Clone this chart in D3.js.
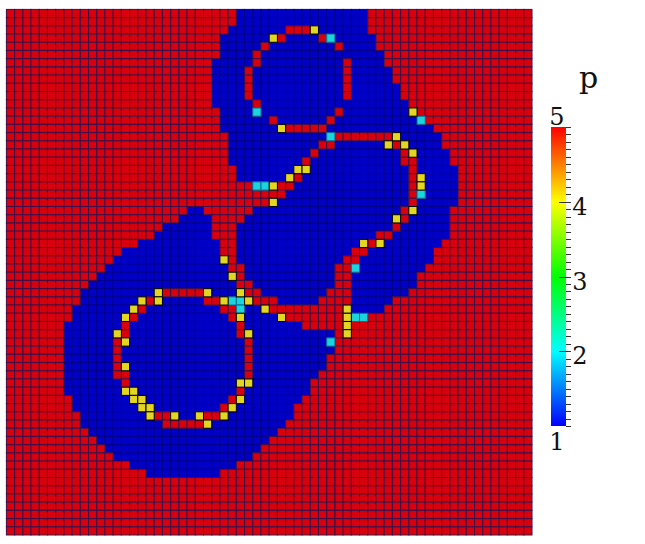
<!DOCTYPE html>
<html><head><meta charset="utf-8">
<script src="https://cdn.jsdelivr.net/npm/d3@7"></script>
<style>html,body{margin:0;padding:0;background:#fff}svg{display:block}</style>
</head><body><svg id="c" width="645" height="544"></svg>
<script>
const gridSize = 64;
// p = 1 runs per row, [start, endExclusive, ...]; everything else defaults to p = 5
const blueRuns = [
[28,44],[28,44],[27,44],[26,45],[26,45],[26,46],[25,46],[25,47],[25,47],[25,48],
[25,48],[25,49],[26,49],[26,50],[26,52],[27,53],[27,53],[27,54],[27,54],[28,55],
[28,55],[30,55],[34,55],[33,55],[22,24,30,54],[21,25,29,54],[19,25,28,54],[18,25,28,54],[16,26,28,53],[14,26,28,52],
[13,26,28,52],[12,27,29,51],[11,27,29,50],[10,28,30,50],[9,49],[9,47],[8,46],[8,44],[7,36],[7,40],
[7,39],[7,40],[7,39],[7,39],[7,38],[7,37],[7,37],[8,36],[8,35],[9,35],
[9,34],[10,33],[11,32],[12,31],[13,30],[15,28],[17,26],[],[],[],[],[],[],[]
];
// rings: [row, ...columns]
const redCells = [
[2,34,35,36],[3,33,38],[4,31,40],[5,30],[6,30,41],[7,29,41],[8,29,41],[9,29,41],[10,29,41],[11,30],
[12,40],[13,32,39],[14,34,35,36,37,38],[15,40,41,42,43,44,45,46],[16,38,39,47],[17,37,48],[18,36,48,49],[19,49],[20,35,49],[21,33,34,49],
[22,49],[23,49],[24,48],[25,48],[26,47],[27,45,46],[28,44],[29,42,43],[30,41,42],[31,40,41],
[32,40,41],[33,40,41],[34,19,20,21,22,23,29,30,39,40,41],[35,17,24,25,30,31,32,38,39,40,41],[36,16,26,27,32,33,34,35,36,37,38,39,40],[37,15,27,34,35,36,37,38,39,40],
[38,14,28],[39,14,28],[40,13,29],[41,13,29],[42,13,29],[43,13,29],[44,13,14,29],[45,14],[46,28],[47,27],[48,26],[49,18,19,24,25],[50,19,20,21,22,23]
];
const yellowCells = [
[2,37],[3,32],[12,49],[14,33],[15,47],[16,46,48],[17,49],[19,35,36],[20,34,50],[21,32,50],[23,32],[24,49],[25,47],[28,43,45],[30,26],[32,27],
[34,18,24,28],[35,16,18,26,29],[36,15,31,41],[37,14,28,33,41],[38,41],[39,13,29,41],[40,14],[43,14],[45,28,29],[46,14,15],[47,15,16,28],[48,16,17,27],[49,17,20,23,26],[50,24]
];
const cyanCells = [[3,39],[12,30],[13,50],[15,39],[21,30,31],[22,50],[31,42],[35,27,28],[36,28],[37,42,43],[40,39]];
const barTicks = [1,2,3,4,5];
const barTitle = "p";

// assemble the grid
const grid = d3.range(gridSize).map(() => new Array(gridSize).fill(5));
blueRuns.forEach((runs, r) => { for (let i = 0; i < runs.length; i += 2) for (let c = runs[i]; c < runs[i+1]; c++) grid[r][c] = 1; });
const put = (list, v) => list.forEach(([r, ...cols]) => cols.forEach(c => grid[r][c] = v));
put(redCells, 5); put(yellowCells, 4); put(cyanCells, 2);
const cells = grid.flatMap((row, r) => row.map((v, c) => ({r, c, v})));

const svg = d3.select("#c");
const defs = svg.append("defs");
defs.append("filter").attr("id","soft").attr("x",-0.01).attr("y",-0.01).attr("width",1.02).attr("height",1.02)
  .append("feGaussianBlur").attr("stdDeviation",0.45);
const x = d3.scaleLinear().domain([0, gridSize]).range([6.4, 532]);
const y = d3.scaleLinear().domain([0, gridSize]).range([9.4, 535]);
const cellFill = d3.scaleOrdinal().domain([1,2,4,5]).range(["#0000c6","#1cd4dc","#e2d620","#d80008"]);
const cellEdge = d3.scaleOrdinal().domain([1,2,4,5]).range(["#000088","#0c6c98","#000000","#3c1048"]);
const rank = {1:0, 5:1, 2:2, 4:3};

svg.append("g").attr("filter","url(#soft)").selectAll("rect")
  .data(cells.slice().sort((a,b) => rank[a.v]-rank[b.v]))
  .join("rect")
  .attr("x", d => x(d.c))
  .attr("y", d => y(d.r))
  .attr("width", d => x(d.c+1) - x(d.c))
  .attr("height", d => y(d.r+1) - y(d.r))
  .attr("fill", d => cellFill(d.v))
  .attr("stroke", d => cellEdge(d.v))
  .attr("stroke-width", 1);

// colour bar
const barY = d3.scaleLinear().domain([1,5]).range([426,127]);
const barColor = d3.scaleLinear().domain(barTicks).range(["#0000ff","#00ffff","#00ff00","#ffff00","#ff0000"]);
const grad = defs.append("linearGradient").attr("id","bar")
  .attr("x1",0).attr("y1",1).attr("x2",0).attr("y2",0);
barTicks.forEach(t => grad.append("stop").attr("offset",(t-1)/4).attr("stop-color",barColor(t)));
svg.append("rect").attr("x",551).attr("y",barY(5)).attr("width",15).attr("height",barY(1)-barY(5)).attr("fill","url(#bar)");
const axis = svg.append("g");
axis.call(g => g.selectAll("line").data(d3.range(1,5.0001,0.1)).join("line")
  .attr("x1", d => Math.abs(d-Math.round(d))<1e-6 && d>1 && d<5 ? 559 : 566)
  .attr("x2", 571)
  .attr("y1", d => Math.round(barY(d))+0.5).attr("y2", d => Math.round(barY(d))+0.5)
  .attr("stroke","#333").attr("stroke-width",1));
const labelPos = {1:[557,450],2:[580,364],3:[580,290],4:[580,215],5:[557,125]};
svg.append("g").selectAll("text").data(barTicks).join("text")
  .attr("x", d => labelPos[d][0]).attr("y", d => labelPos[d][1])
  .attr("text-anchor","middle")
  .attr("font-family","'DejaVu Serif',serif").attr("font-size",24).attr("fill","#111")
  .text(d => d);
svg.append("text").attr("x",588.5).attr("y",88).attr("text-anchor","middle")
  .attr("font-family","'DejaVu Serif',serif").attr("font-size",30).attr("fill","#111").text(barTitle);
</script></body></html>
